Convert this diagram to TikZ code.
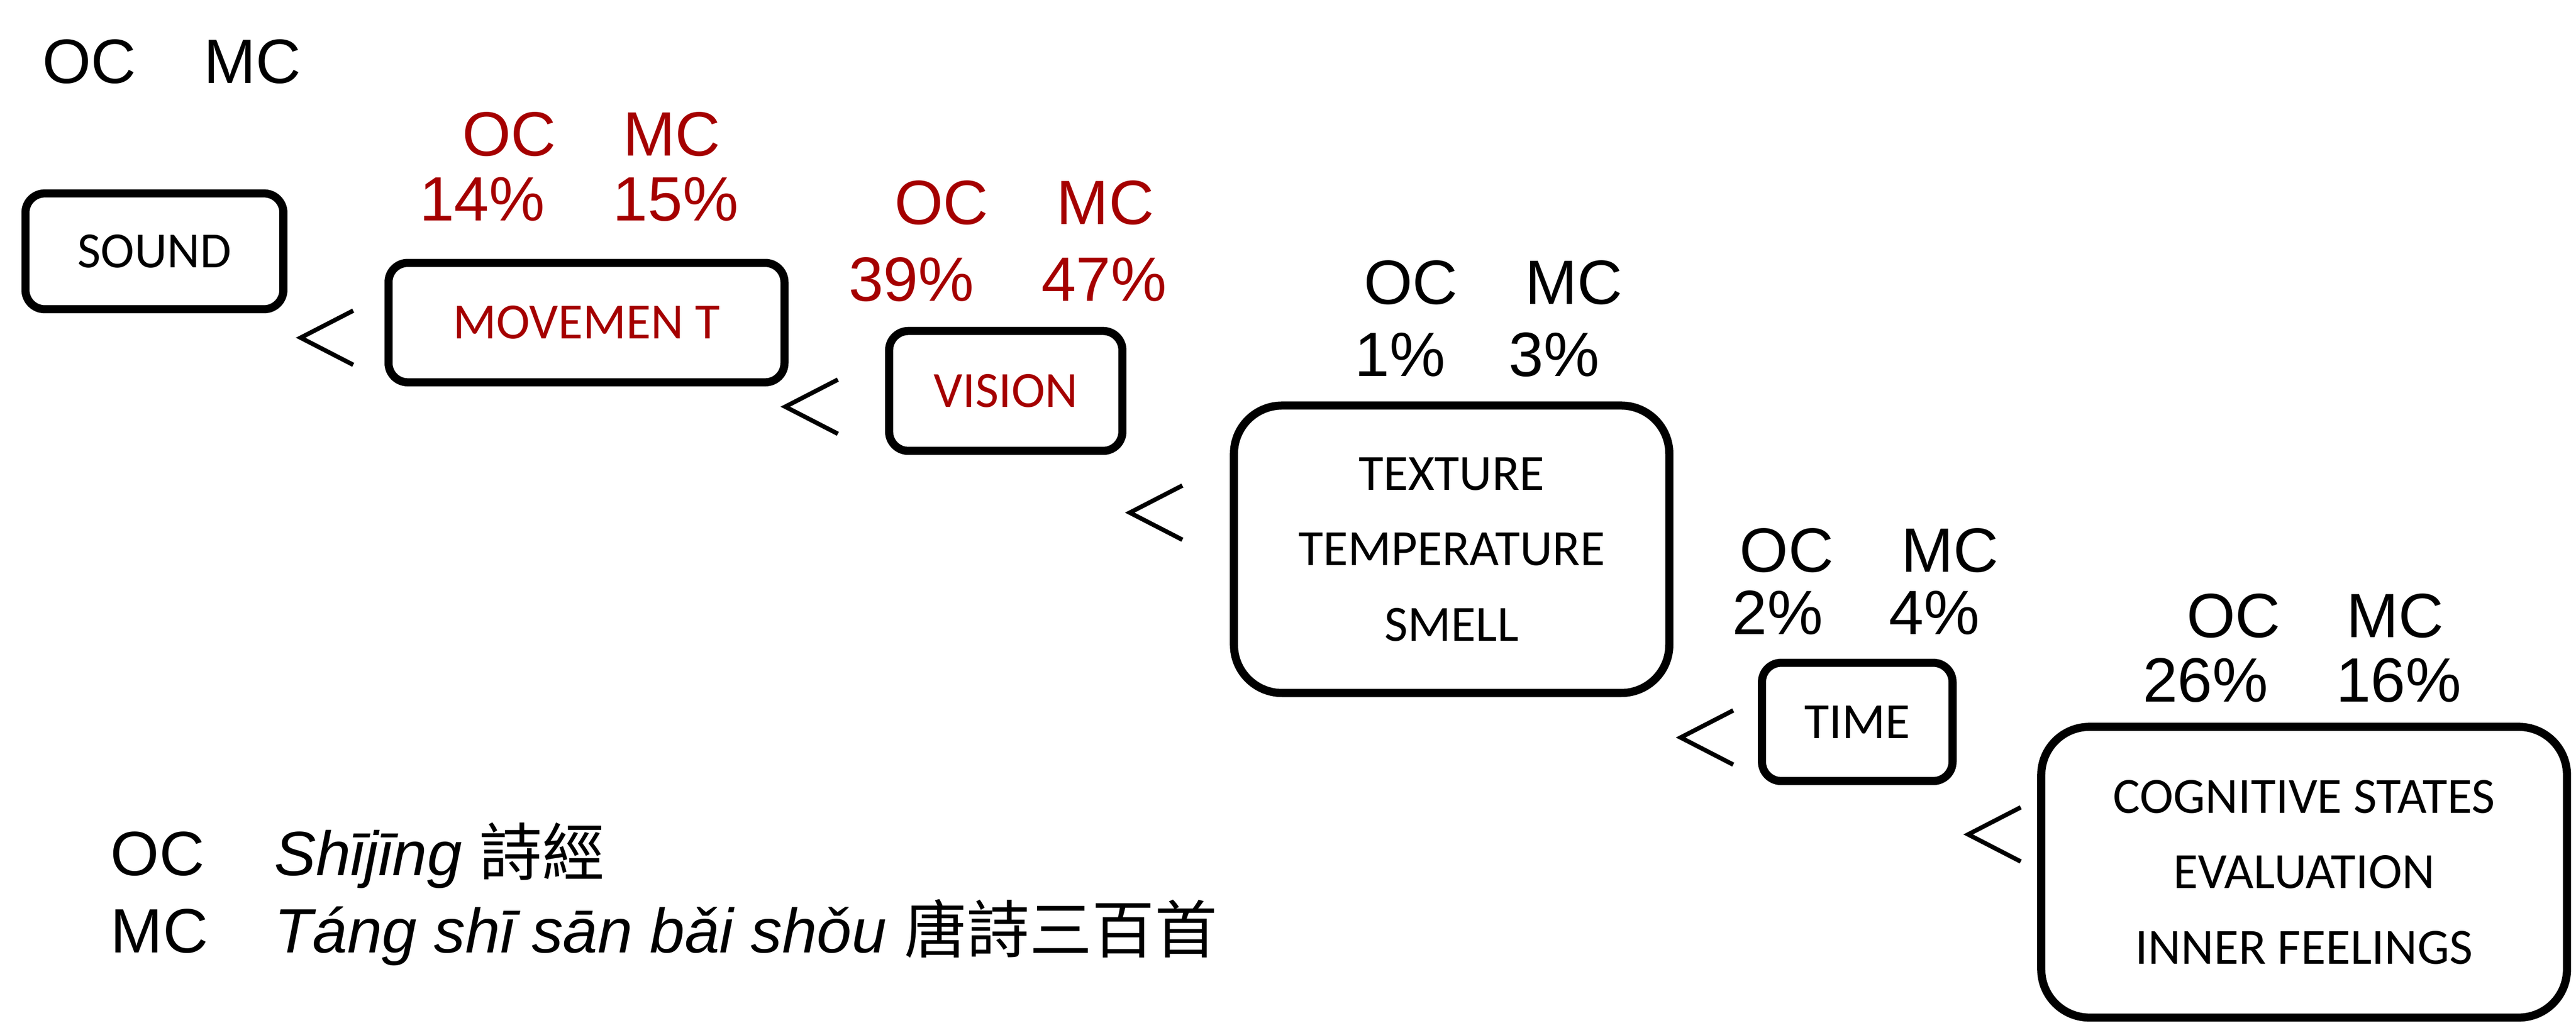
\documentclass[tikz,border=0pt]{standalone}
\usepackage{fontspec}
\setmainfont{Liberation Sans}
\newfontfamily\boxfont{Carlito}
\newfontfamily\cjk{Noto Sans CJK TC}
\definecolor{oxred}{RGB}{165,0,0}
\newcommand{\dpx}{0.01706cm}
\tikzset{
  sensebox/.style={draw, line width=2.4pt, rounded corners=0.2cm, align=center, inner sep=0pt,
    font=\boxfont\fontsize{15}{22.3}\selectfont},
  bigbox/.style={sensebox, rounded corners=0.5cm},
  pct/.style={inner sep=0pt, font=\fontsize{18.5}{22}\selectfont},
  lessmark/.style={line width=1.3pt}
}
\begin{document}
\begin{tikzpicture}[x=\dpx, y=-\dpx]
        \useasboundingbox (0,0) rectangle (1568,622.8);

        % boxes
        \node[sensebox, minimum width=157*\dpx, minimum height=70.5*\dpx] (sound) at (94,153) {SOUND};
        \node[sensebox, text=oxred, minimum width=241*\dpx, minimum height=72.7*\dpx] (move) at (357,196.4) {MOVEMEN T};
        \node[sensebox, text=oxred, minimum width=142*\dpx, minimum height=73*\dpx] (vision) at (612.2,238) {VISION};
        \node[bigbox, minimum width=265*\dpx, minimum height=175*\dpx] (texture) at (883.6,334.4) {TEXTURE\\TEMPERATURE\\SMELL};
        \node[sensebox, minimum width=116*\dpx, minimum height=72*\dpx] (time) at (1130.5,439.5) {TIME};
        \node[bigbox, minimum width=320*\dpx, minimum height=177*\dpx] (cog) at (1402.5,531) {COGNITIVE STATES\\EVALUATION\\INNER FEELINGS};

        % less-than marks
        \foreach \x/\y in {183/205.6, 478/247.6, 687.7/312.1, 1023/449, 1198/508}
            \draw[lessmark] (\x+32,\y-16.5) -- (\x,\y) -- (\x+32,\y+16.5);

        % shares
        \node[pct] (sound-oc) at (54.4,37.6) {OC};
        \node[pct] (sound-mc) at (153.7,37.6) {MC};

        \node[pct, text=oxred] (move-oc) at (310,81.7) {OC};
        \node[pct, text=oxred] (move-mc) at (409,81.7) {MC};
        \node[pct, text=oxred] (move-ocp) at (293.5,121.3) {14\%};
        \node[pct, text=oxred] (move-mcp) at (411.3,121.3) {15\%};

        \node[pct, text=oxred] (vision-oc) at (573,123.6) {OC};
        \node[pct, text=oxred] (vision-mc) at (672.8,123.6) {MC};
        \node[pct, text=oxred] (vision-ocp) at (554.7,170.3) {39\%};
        \node[pct, text=oxred] (vision-mcp) at (672,170.3) {47\%};

        \node[pct] (texture-oc) at (858.8,172) {OC};
        \node[pct] (texture-mc) at (958,172) {MC};
        \node[pct] (texture-ocp) at (852.3,216) {1\%};
        \node[pct] (texture-mcp) at (946,216) {3\%};

        \node[pct] (time-oc) at (1087.5,335) {OC};
        \node[pct] (time-mc) at (1187,335) {MC};
        \node[pct] (time-ocp) at (1082,373) {2\%};
        \node[pct] (time-mcp) at (1177.5,373) {4\%};

        \node[pct] (cog-oc) at (1359.5,375) {OC};
        \node[pct] (cog-mc) at (1458,375) {MC};
        \node[pct] (cog-ocp) at (1342.5,414) {26\%};
        \node[pct] (cog-mcp) at (1460,414) {16\%};

        % key
        \node[pct, anchor=base west] (key-oc) at (67,533) {OC};
        \node[pct, anchor=base west] (key-ocsrc) at (166.5,533) {\textit{Shījīng} {\cjk 詩經}};
        \node[pct, anchor=base west] (key-mc) at (67,580) {MC};
        \node[pct, anchor=base west] (key-mcsrc) at (166.5,580) {\textit{Táng shī sān bǎi shǒu} {\cjk 唐詩三百首}};
\end{tikzpicture}
\end{document}
